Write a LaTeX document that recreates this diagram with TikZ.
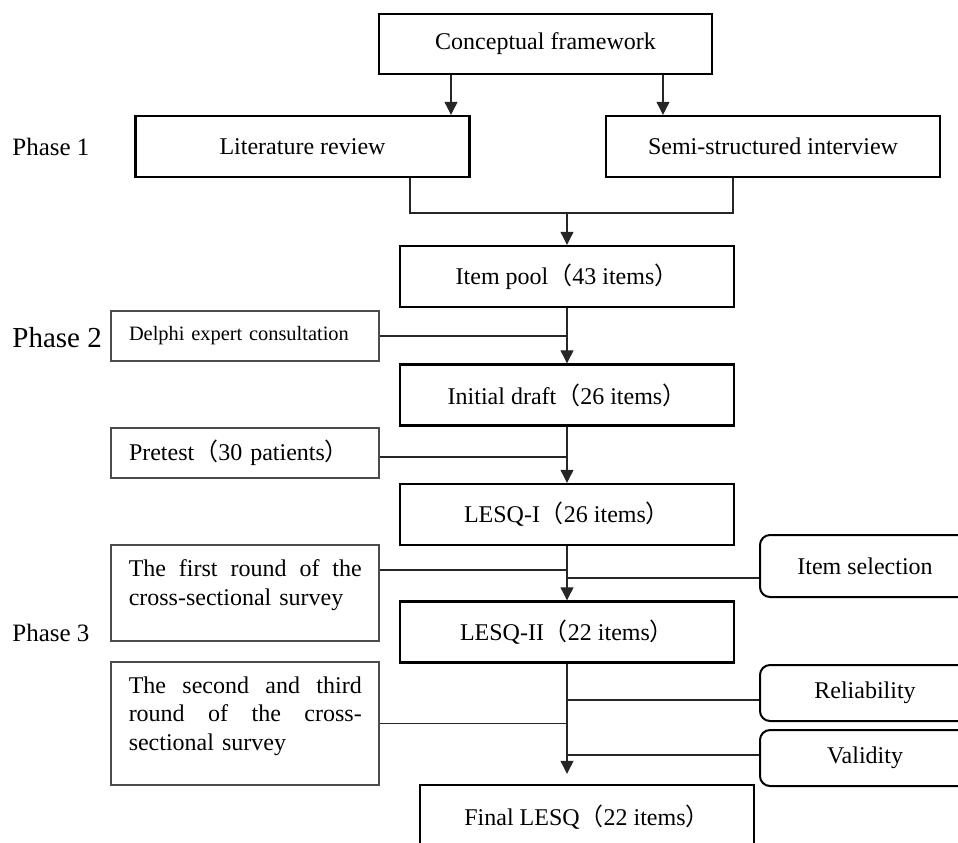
\documentclass[tikz,border=0pt]{standalone}
\usepackage{fontspec}
\setmainfont{Liberation Serif}
\newfontfamily\cjkf{Noto Sans CJK SC}
\newcommand\myLP{{\cjkf （}}
\newcommand\myRP{{\cjkf ）}}
\usetikzlibrary{arrows.meta,calc}
\begin{document}
\begin{tikzpicture}[x=0.5pt,y=-0.5pt,
  mainbox/.style={draw,line width=1.2pt,minimum width=167pt,minimum height=30.5pt,inner sep=0pt,font=\fontsize{12}{14}\selectfont},
  sidebox/.style={draw=black!70,line width=0.65pt,minimum width=134pt,inner sep=0pt},
  sidetext/.style={anchor=north west,inner sep=0pt,text width=116.5pt,align=left,font=\fontsize{12}{14.3}\selectfont},
  rbox/.style={draw,line width=1pt,rounded corners=5pt,minimum width=105pt,inner sep=0pt,font=\fontsize{12}{14}\selectfont},
  conn/.style={line width=0.55pt,draw=black!85},
  arr/.style={conn,-{Triangle[length=6.5pt,width=6.5pt]}},
  phase/.style={anchor=west,inner sep=0pt}]
\useasboundingbox (0,0) rectangle (958,842);
\clip (0,0) rectangle (958,842);

% main boxes
\node[mainbox,minimum width=166.5pt,minimum height=30pt] (cf) at (545.5,44) {Conceptual framework};
\node[mainbox] (lit) at (302.5,146.5) {Literature review};
\node[mainbox] (semi) at (773,146.5) {Semi-structured interview};
\node[mainbox] (pool) at (567,276.5) {Item pool\myLP 43 items\myRP};
\node[mainbox] (draft) at (567,395) {Initial draft\myLP 26 items\myRP};
\node[mainbox] (l1) at (567,514.5) {LESQ-I\myLP 26 items\myRP};
\node[mainbox] (l2) at (567,632) {LESQ-II\myLP 22 items\myRP};
\node[mainbox,minimum height=32pt] (fin) at (587,817) {Final LESQ\myLP 22 items\myRP};

% side boxes
\node[sidebox,minimum height=25pt,text width=116pt,inner xsep=9pt,align=left,font=\fontsize{10.2}{12}\selectfont] (del) at (245,336) {Delphi expert consultation};
\node[sidebox,minimum height=25pt,text width=116pt,inner xsep=9pt,align=left,font=\fontsize{12}{14}\selectfont] (pre) at (245,453) {Pretest\myLP 30 patients\myRP};
\node[sidebox,minimum height=48pt] (r1) at (245,593) {};
\node[sidetext] (r1t) at ([xshift=9pt,yshift=-7.5pt]r1.north west) {The\hfill first\hfill round\hfill of\hfill the\\cross-sectional survey};
\node[sidebox,minimum height=61.5pt] (r2) at (245,723.5) {};
\node[sidetext] (r2t) at ([xshift=9pt,yshift=-7.3pt]r2.north west) {The\hfill second\hfill and\hfill third\\round\hfill of\hfill the\hfill cross-\\sectional survey};

% right rounded boxes
\node[rbox,minimum height=31pt] (sel) at (865,566) {Item selection};
\node[rbox,minimum height=28pt] (rel) at (865,693) {Reliability};
\node[rbox,minimum height=28pt] (val) at (865,758) {Validity};

% phase labels
\node[phase,font=\fontsize{12.5}{14}\selectfont] (p1) at (12,147) {Phase 1};
\node[phase,font=\fontsize{14.5}{16}\selectfont] (p2) at (12,338) {Phase 2};
\node[phase,font=\fontsize{12.5}{14}\selectfont] (p3) at (12,633) {Phase 3};

% connectors
\draw[arr] ([xshift=-47.25pt]cf.south) -- ([xshift=-47.25pt]cf.south |- lit.north);
\draw[arr] ([xshift=58.75pt]cf.south) -- ([xshift=58.75pt]cf.south |- semi.north);
\coordinate (j) at (567,213);
\draw[conn] ([xshift=53.75pt]lit.south) |- (j) -| ([xshift=-20pt]semi.south);
\draw[arr] (j) -- (pool.north);

\draw[arr] (pool.south) -- (draft.north);
\draw[conn] (del.east) -- (del.east -| pool.south);
\draw[arr] (draft.south) -- (l1.north);
\draw[conn] ([yshift=-2pt]pre.east) -- ([yshift=-2pt]pre.east -| draft.south);
\draw[arr] (l1.south) -- (l2.north);
\draw[conn] ([yshift=11.5pt]r1.east) -- ([yshift=11.5pt]r1.east -| l1.south);
\draw[conn] ([yshift=-6pt]sel.west) -- ([yshift=-6pt]sel.west -| l1.south);
\draw[arr,shorten >=5pt] (l2.south) -- (l2.south |- fin.north);
\draw[conn] (r2.east) -- (r2.east -| l2.south);
\draw[conn] ([yshift=-3.5pt]rel.west) -- ([yshift=-3.5pt]rel.west -| l2.south);
\draw[conn] ([yshift=1.5pt]val.west) -- ([yshift=1.5pt]val.west -| l2.south);
\end{tikzpicture}
\end{document}
